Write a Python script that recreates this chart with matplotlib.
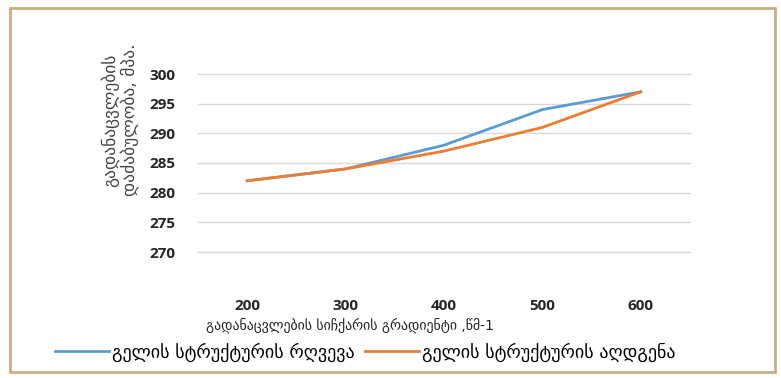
import matplotlib.pyplot as plt
from matplotlib.patches import Rectangle

# gradient categories (s^-1) and shear stress values
gradient = ['200', '300', '400', '500', '600']
breakdown = [282, 284, 288, 294, 297]
recovery = [282, 284, 287, 291, 297]
yticks = [270, 275, 280, 285, 290, 295, 300]

xlabel = 'გადანაცვლების სიჩქარის გრადიენტი ,წმ-1'
ylabel = 'გადანაცვლების\nდაძაბულობა, მპა.'
names = ['გელის სტრუქტურის რღვევა', 'გელის სტრუქტურის აღდგენა']

W, H = 781, 378
fig = plt.figure(figsize=(W / 100, H / 100), dpi=100)
fig.patches.append(Rectangle((10 / W, 6 / H), 1 - 16 / W, 1 - 14 / H, transform=fig.transFigure,
                             fill=False, edgecolor='#cbae82', linewidth=2))

ax = fig.add_axes([198 / W, 1 - 252 / H, 492 / W, 178 / H])
x = range(len(gradient))
ax.plot(x, breakdown, color='#5b9bd5', linewidth=2, label=names[0])
ax.plot(x, recovery, color='#ed7d31', linewidth=2, label=names[1])

ax.set_xlim(-0.5, len(gradient) - 0.5)
ax.set_ylim(270, 300)
ax.set_yticks(yticks)
ax.set_xticks(list(x))
ax.set_xticklabels(gradient)
for s in ax.spines.values():
    s.set_visible(False)
ax.grid(axis='y', color='#d9d9d9', linewidth=1)
for gl in ax.get_ygridlines():
    gl.set_clip_on(False)
ax.set_axisbelow(True)
ax.tick_params(length=0)
ax.tick_params(axis='x', pad=34)
ax.tick_params(axis='y', pad=16)
for lbl in ax.get_xticklabels() + ax.get_yticklabels():
    lbl.set_fontfamily('Open Sans')
    lbl.set_fontweight('bold')
    lbl.set_fontsize(11)
    lbl.set_color('#262626')

fig.text(350 / W, 1 - 325 / H, xlabel, fontsize=10, family='DejaVu Sans',
         color='#222222', ha='center', va='center')
fig.text(120 / W, 1 - 120 / H, ylabel, fontsize=12.5, family='DejaVu Sans',
         color='#444444', rotation=90, ha='center', va='center', linespacing=1.05)

fig.legend(loc='center', bbox_to_anchor=(365 / W, 1 - 352 / H), ncol=2, frameon=False,
           handlelength=3.0, handletextpad=0.15, columnspacing=0.6,
           prop={'family': 'DejaVu Sans', 'size': 13})

fig.savefig('out.png', dpi=100)
